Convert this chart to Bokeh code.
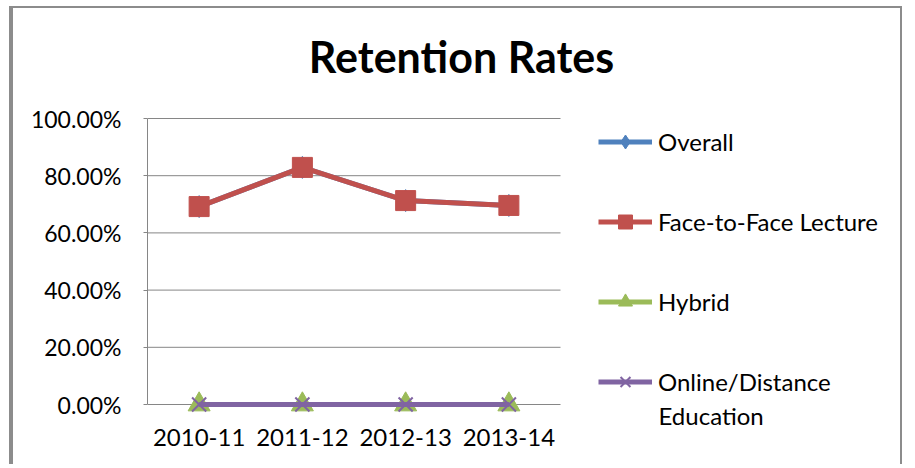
from bokeh.plotting import figure
from bokeh.models import (Range1d, NumeralTickFormatter, Legend, LegendItem, Label, FixedTicker)
from bokeh.embed import file_html
from bokeh.resources import INLINE

# ---- data ----
years = ["2010-11", "2011-12", "2012-13", "2013-14"]
overall = [0.692, 0.829, 0.713, 0.696]
face_to_face = [0.692, 0.829, 0.713, 0.696]
hybrid = [0.0, 0.0, 0.0, 0.0]
online = [0.0, 0.0, 0.0, 0.0]
y_ticks = [0.0, 0.2, 0.4, 0.6, 0.8, 1.0]
series_names = ["Overall", "Face-to-Face Lecture", "Hybrid", "Online/Distance\nEducation"]

BLUE, RED, GREEN, PURPLE = "#4F81BD", "#C0504D", "#9BBB59", "#8064A2"
GRID = "#868686"
FONT = "Lato"

# category positions on a numeric axis (one unit per category, centred)
xs = [i + 0.5 for i in range(len(years))]
n = len(years)

# layout (pixels): canvas 893x458; frame spans to the right/top/bottom edges
W, H = 893, 458
LEFT = 134
PX_PER_CAT = 103.25
PX_PER_UNIT = 286.0
Y0_FROM_BOTTOM = 62      # pixel height below the 0% line
TOP_ABOVE_100 = 110      # pixel height above the 100% line
x_end = (W - LEFT) / PX_PER_CAT
y_start = -Y0_FROM_BOTTOM / PX_PER_UNIT
y_end = 1 + TOP_ABOVE_100 / PX_PER_UNIT

p = figure(width=W, height=H,
           x_range=Range1d(0, x_end), y_range=Range1d(y_start, y_end),
           output_backend="svg", toolbar_location=None,
           min_border_left=LEFT, min_border_right=0,
           min_border_top=0, min_border_bottom=0,
           styles={"border-top": "2px solid #8c8c8c",
                   "border-left": "4px solid #8c8c8c",
                   "border-right": "2px solid #8c8c8c",
                   "margin-left": "9px", "margin-top": "6px"})
p.outline_line_color = None
p.background_fill_color = "white"
p.border_fill_color = "white"
p.xgrid.grid_line_color = None
p.ygrid.grid_line_color = None

# y axis
p.yaxis.ticker = FixedTicker(ticks=y_ticks)
p.yaxis.formatter = NumeralTickFormatter(format="0.00%")
p.yaxis.bounds = (y_ticks[0], y_ticks[-1])
p.yaxis.axis_line_color = GRID
p.yaxis.major_tick_line_color = GRID
p.yaxis.major_tick_out = 4
p.yaxis.major_tick_in = 0
p.yaxis.minor_tick_line_color = None
p.yaxis.major_label_standoff = 22
p.yaxis.major_label_text_font = FONT
p.yaxis.major_label_text_font_size = "23px"
p.yaxis.major_label_text_color = "black"

# x axis (category labels) fixed at the 0% line
p.xaxis.fixed_location = 0
p.xaxis.bounds = (0, n)
p.xaxis.ticker = FixedTicker(ticks=xs)
p.xaxis.major_label_overrides = {x: y for x, y in zip(xs, years)}
p.xaxis.axis_line_color = None
p.xaxis.major_tick_line_color = None
p.xaxis.minor_tick_line_color = None
p.xaxis.major_label_standoff = 18
p.xaxis.major_label_text_font = FONT
p.xaxis.major_label_text_font_size = "24px"
p.xaxis.major_label_text_color = "black"

# horizontal gridlines across the plot area only
p.segment(x0=[0] * len(y_ticks), x1=[n] * len(y_ticks), y0=y_ticks, y1=y_ticks,
          line_color=GRID, line_width=1)

# series
LW = 5
r_ov_l = p.line(xs, overall, line_color=BLUE, line_width=LW)
r_ov_m = p.scatter(xs, overall, marker="diamond", size=22, fill_color=BLUE, line_color=BLUE)
r_ff_l = p.line(xs, face_to_face, line_color=RED, line_width=LW)
r_ff_m = p.scatter(xs, face_to_face, marker="square", size=20, fill_color=RED, line_color=RED)
r_hy_l = p.line(xs, hybrid, line_color=GREEN, line_width=LW)
r_hy_m = p.scatter(xs, hybrid, marker="triangle", size=22, fill_color=GREEN, line_color=GREEN)
r_on_l = p.line(xs, online, line_color=PURPLE, line_width=LW)
r_on_m = p.scatter(xs, online, marker="x", size=20, line_color=PURPLE, line_width=2)

first_line, second_line = series_names[3].split("\n")
legend = Legend(items=[
    LegendItem(label=series_names[0], renderers=[r_ov_l, r_ov_m]),
    LegendItem(label=series_names[1], renderers=[r_ff_l, r_ff_m]),
    LegendItem(label=series_names[2], renderers=[r_hy_l, r_hy_m]),
    LegendItem(label=first_line, renderers=[r_on_l, r_on_m]),
], location=(451, 67))
legend.label_text_font = FONT
legend.label_text_font_size = "24px"
legend.label_text_color = "black"
legend.glyph_width = 54
legend.glyph_height = 35
legend.label_height = 20
legend.label_standoff = 6
legend.spacing = 45
legend.padding = 0
legend.margin = 0
legend.border_line_color = None
legend.background_fill_alpha = 0
p.add_layout(legend, "center")

p.add_layout(Label(x=511, y=51, x_units="screen", y_units="screen", text=second_line,
                   text_font=FONT, text_font_size="24px", text_color="black",
                   text_align="left", text_baseline="middle"))

# chart title
p.add_layout(Label(x=314, y=410, x_units="screen", y_units="screen", text="Retention Rates",
                   text_font=FONT, text_font_style="bold", text_font_size="43px",
                   text_color="black", text_align="center", text_baseline="middle"))

open("out.html", "w").write(file_html(p, INLINE))
